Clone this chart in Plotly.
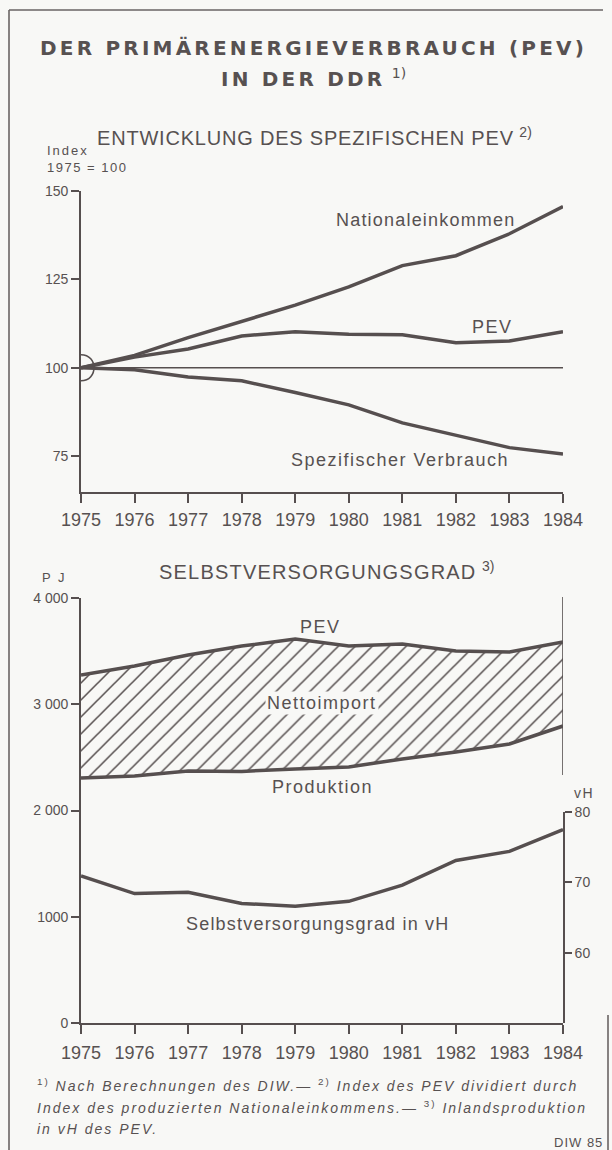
import plotly.graph_objects as go

# ---------------- data ----------------
years = list(range(1975, 1985))
year_labels = [str(y) for y in years]

index_base = 100
index_ticks = [75, 100, 125, 150]
nationaleinkommen = [100, 103.5, 108.5, 113.0, 117.7, 122.9, 128.9, 131.7, 137.9, 145.6]
pev_index = [100, 103.0, 105.3, 109.0, 110.2, 109.5, 109.3, 107.1, 107.6, 110.2]
spez_verbrauch = [100, 99.4, 97.4, 96.3, 93.0, 89.5, 84.4, 81.0, 77.4, 75.6]

pj_ticks = [0, 1000, 2000, 3000, 4000]
pj_tick_labels = ["0", "1000", "2 000", "3 000", "4 000"]
pev_pj = [3275, 3360, 3463, 3548, 3614, 3548, 3567, 3501, 3492, 3586]
produktion_pj = [2306, 2325, 2372, 2368, 2390, 2410, 2485, 2550, 2626, 2795]

vh_ticks = [60, 70, 80]
selbstversorgung_vh = [70.9, 68.4, 68.6, 67.0, 66.6, 67.3, 69.6, 73.1, 74.4, 77.5]

# ---------------- styling ----------------
W, H = 612, 1150
BG = "#f8f8f6"
C = "#564f4f"
TXT = "#575151"
SANS = "Liberation Sans, Arial, sans-serif"
WIDE = "DejaVu Sans, sans-serif"


def fx(px):
    return px / W


def fy(py):
    return 1 - py / H


def ls(text, sp, size):
    return f'<span style="letter-spacing:{sp}px;font-size:{size}px">{text}</span>'


X0, X1 = 81, 563
fig = go.Figure()

line_style = dict(color=C, width=3.5)

# top chart
for vals in (nationaleinkommen, pev_index, spez_verbrauch):
    fig.add_trace(go.Scatter(x=years, y=vals, mode="lines", line=line_style,
                             xaxis="x", yaxis="y", hoverinfo="skip"))

# bottom chart
fig.add_trace(go.Scatter(x=years, y=produktion_pj, mode="lines", line=line_style,
                         xaxis="x2", yaxis="y2", hoverinfo="skip"))
fig.add_trace(go.Scatter(x=years, y=pev_pj, mode="lines", line=line_style,
                         fill="tonexty", fillcolor="rgba(0,0,0,0)",
                         fillpattern=dict(shape="/", size=12, solidity=0.13,
                                          fgcolor=C, bgcolor="rgba(0,0,0,0)",
                                          fillmode="replace"),
                         xaxis="x2", yaxis="y2", hoverinfo="skip"))
fig.add_trace(go.Scatter(x=years, y=selbstversorgung_vh, mode="lines", line=line_style,
                         xaxis="x2", yaxis="y3", hoverinfo="skip"))

axis_common = dict(showgrid=False, zeroline=False, showline=True, linecolor=C,
                   linewidth=1.6, ticks="outside", tickcolor=C, tickwidth=1.6,
                   fixedrange=True)
xfont = dict(family=SANS, size=18, color=TXT)
yfont = dict(family=SANS, size=14, color=TXT)

fig.update_layout(
    width=W, height=H,
    margin=dict(l=0, r=0, t=0, b=0, autoexpand=False),
    paper_bgcolor=BG, plot_bgcolor="rgba(0,0,0,0)",
    showlegend=False,
    xaxis=dict(axis_common, domain=[fx(X0), fx(X1)], range=[years[0], years[-1]],
               tickvals=years, ticktext=year_labels, ticklen=9, tickfont=xfont,
               ticklabelstandoff=2, anchor="y"),
    yaxis=dict(axis_common, domain=[fy(492), fy(191)], range=[64.85, 150],
               tickvals=index_ticks, ticklen=8, tickfont=yfont, anchor="x"),
    xaxis2=dict(axis_common, domain=[fx(X0), fx(X1)], range=[years[0], years[-1]],
                tickvals=years, ticktext=year_labels, ticklen=9, tickfont=xfont,
                ticklabelstandoff=4, anchor="y2"),
    yaxis2=dict(axis_common, domain=[fy(1023), fy(598)], range=[0, 4000],
                tickvals=pj_ticks, ticktext=pj_tick_labels, ticklen=8,
                tickfont=yfont, anchor="x2"),
    yaxis3=dict(axis_common, domain=[fy(1023), fy(812)], range=[50, 80],
                tickvals=vh_ticks, ticklen=7, tickfont=yfont, side="right",
                anchor="x2"),
)

shapes = []
# reference line at index 100
shapes.append(dict(type="line", xref="x", yref="y", x0=years[0], x1=years[-1],
                   y0=index_base, y1=index_base, line=dict(color=C, width=1.6)))
# half circle at the base point
r = 13
k = 4 / 3 * r
shapes.append(dict(type="path", xref="x", yref="y", xsizemode="pixel",
                   ysizemode="pixel", xanchor=years[0], yanchor=index_base,
                   path=f"M 0,{r} C {k},{r} {k},{-r} 0,{-r}",
                   line=dict(color=C, width=1.6)))
# upper right frame line of the lower chart
shapes.append(dict(type="line", xref="x2", yref="paper", x0=years[-1], x1=years[-1],
                   y0=fy(775), y1=fy(597), line=dict(color=C, width=1.6)))
# outer frame
frame = dict(color="#6a6464", width=1.6)
shapes.append(dict(type="line", xref="paper", yref="paper", x0=fx(9), x1=fx(9),
                   y0=fy(10), y1=fy(1152), line=frame))
shapes.append(dict(type="line", xref="paper", yref="paper", x0=fx(9), x1=fx(603),
                   y0=fy(10), y1=fy(10), line=frame))
shapes.append(dict(type="line", xref="paper", yref="paper", x0=fx(608), x1=fx(608),
                   y0=fy(1015), y1=fy(1152), line=frame))
fig.update_layout(shapes=shapes)

ann = []


def add(text, x, y, size, sp, sup=None, xanchor="center", family=SANS, bg=None):
    body = ls(text, sp, size)
    if sup:
        body += f" <sup>{sup}</sup>"
    d = dict(text=body, x=fx(x), y=fy(y), xref="paper", yref="paper",
             xanchor=xanchor, yanchor="middle", showarrow=False,
             font=dict(family=family, size=size, color=TXT))
    if bg:
        d.update(bgcolor=bg, borderpad=1)
    ann.append(d)


add("<b>DER PRIMÄRENERGIEVERBRAUCH (PEV)</b>", 313, 48, 20, 3.2, family=WIDE)
add("<b>IN DER DDR</b>", 313, 78, 20, 3.2, sup="1)", family=WIDE)
add("ENTWICKLUNG DES SPEZIFISCHEN PEV", 95, 137, 20, 0.8, sup="2)", xanchor="left")
add("Index", 45, 151, 13, 2, xanchor="left")
add("1975 = 100", 45, 168, 13, 1.5, xanchor="left")
add("Nationaleinkommen", 425, 220, 18, 1.2)
add("PEV", 492, 327, 18, 1.5)
add("Spezifischer Verbrauch", 400, 460, 18, 1.5)

add("SELBSTVERSORGUNGSGRAD", 157, 570, 20, 1.2, sup="3)", xanchor="left")
add("P J", 40, 577, 13, 2, xanchor="left")
add("PEV", 320, 627, 18, 1.5)
add("Nettoimport", 322, 703, 18, 1.5, bg=BG)
add("Produktion", 322, 787, 18, 1.5)
add("Selbstversorgungsgrad in vH", 318, 924, 18, 1.2)
add("vH", 572, 793, 14, 1.5, xanchor="left")

fn = 14
add("<sup>1)</sup> <i>Nach Berechnungen des DIW.— </i><sup>2)</sup> <i>Index des PEV dividiert durch</i>",
    35, 1085, fn, 2, xanchor="left")
add("<i>Index des produzierten Nationaleinkommens.— </i><sup>3)</sup> <i>Inlandsproduktion</i>",
    35, 1107, fn, 2, xanchor="left")
add("<i>in vH des PEV.</i>", 35, 1129, fn, 2, xanchor="left")
add("DIW 85", 605, 1142, 13, 1, xanchor="right")

fig.update_layout(annotations=ann)

fig.write_html("out.html", config={"displayModeBar": False},
               post_script="document.body.style.margin='0';document.body.style.padding='0';")
